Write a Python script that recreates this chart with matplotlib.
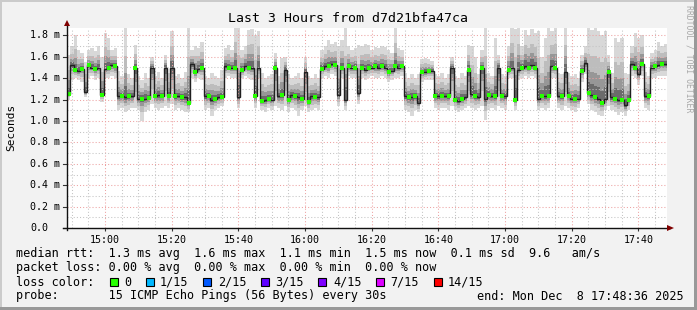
import numpy as np
import matplotlib
matplotlib.use("Agg")
import matplotlib.pyplot as plt
from matplotlib.patches import Rectangle, Polygon

W, H, DPI = 697, 310, 100
MONO = "DejaVu Sans Mono"

title = "Last 3 Hours from d7d21bfa47ca"
y_label = "Seconds"
side_text = "RRDTOOL / TOBI OETIKER"
start_time = "14:48:36"

# one value per minute from 14:48:36, in milliseconds
median_ms = [
    1.25, 1.52, 1.48, 1.47, 1.49, 1.27, 1.52, 1.50, 1.49, 1.50,
    1.245, 1.49, 1.50, 1.52, 1.51, 1.23, 1.23, 1.22, 1.23, 1.23,
    1.50, 1.21, 1.21, 1.21, 1.215, 1.50, 1.23, 1.24, 1.23, 1.50,
    1.23, 1.50, 1.23, 1.23, 1.22, 1.22, 1.17, 1.53, 1.46, 1.49,
    1.50, 1.23, 1.23, 1.20, 1.21, 1.22, 1.22, 1.51, 1.50, 1.50,
    1.50, 1.22, 1.48, 1.51, 1.50, 1.50, 1.23, 1.50, 1.19, 1.20,
    1.21, 1.20, 1.50, 1.23, 1.24, 1.48, 1.20, 1.24, 1.23, 1.22,
    1.21, 1.46, 1.18, 1.23, 1.22, 1.22, 1.49, 1.51, 1.51, 1.53,
    1.52, 1.245, 1.50, 1.20, 1.51, 1.50, 1.50, 1.26, 1.50, 1.48,
    1.50, 1.50, 1.51, 1.50, 1.51, 1.50, 1.46, 1.47, 1.51, 1.50,
    1.51, 1.23, 1.22, 1.22, 1.23, 1.17, 1.46, 1.46, 1.47, 1.47,
    1.23, 1.23, 1.23, 1.23, 1.23, 1.50, 1.20, 1.19, 1.21, 1.22,
    1.48, 1.25, 1.23, 1.22, 1.50, 1.21, 1.245, 1.23, 1.23, 1.50,
    1.23, 1.23, 1.48, 1.50, 1.20, 1.48, 1.50, 1.51, 1.50, 1.52,
    1.50, 1.21, 1.23, 1.23, 1.23, 1.51, 1.50, 1.23, 1.23, 1.46,
    1.23, 1.21, 1.21, 1.21, 1.47, 1.54, 1.26, 1.24, 1.22, 1.21,
    1.17, 1.21, 1.46, 1.22, 1.21, 1.20, 1.20, 1.15, 1.20, 1.53,
    1.50, 1.44, 1.53, 1.23, 1.23, 1.50, 1.51, 1.52, 1.53, 1.53,
]
smoke_hi_ms = [
    1.62, 1.70, 1.80, 1.66, 1.64, 1.55, 1.66, 1.68, 1.65, 1.70,
    1.60, 1.82, 1.78, 1.66, 1.68, 1.47, 1.42, 1.87, 1.44, 1.40,
    1.71, 1.42, 1.38, 1.45, 1.40, 1.60, 1.42, 1.46, 1.40, 1.62,
    1.45, 1.84, 1.42, 1.44, 1.40, 1.46, 1.88, 1.66, 1.70, 1.68,
    1.74, 1.42, 1.40, 1.45, 1.42, 1.40, 1.48, 1.68, 1.71, 1.66,
    1.90, 1.88, 1.66, 1.70, 1.85, 1.86, 1.80, 1.84, 1.45, 1.40,
    1.42, 1.44, 1.64, 1.42, 1.59, 1.60, 1.44, 1.40, 1.42, 1.45,
    1.40, 1.60, 1.42, 1.40, 1.44, 1.40, 1.66, 1.70, 1.76, 1.72,
    1.74, 1.70, 1.76, 1.88, 1.70, 1.66, 1.68, 1.71, 1.70, 1.72,
    1.71, 1.66, 1.69, 1.68, 1.70, 1.69, 1.66, 1.64, 1.87, 1.68,
    1.66, 1.45, 1.40, 1.44, 1.40, 1.44, 1.58, 1.59, 1.58, 1.56,
    1.44, 1.42, 1.45, 1.40, 1.44, 1.60, 1.42, 1.40, 1.45, 1.42,
    1.71, 1.70, 1.60, 1.44, 1.66, 1.87, 1.45, 1.42, 1.78, 1.62,
    1.44, 1.42, 1.70, 1.88, 1.86, 1.88, 1.70, 1.85, 1.80, 1.86,
    1.82, 1.84, 1.60, 1.78, 1.87, 1.84, 1.87, 1.45, 1.44, 1.88,
    1.45, 1.42, 1.44, 1.40, 1.62, 1.70, 1.87, 1.85, 1.87, 1.84,
    1.80, 1.84, 1.62, 1.45, 1.78, 1.74, 1.78, 1.45, 1.44, 1.70,
    1.82, 1.78, 1.80, 1.46, 1.42, 1.64, 1.66, 1.74, 1.70, 1.72,
]
smoke_lo_ms = [
    1.20, 1.38, 1.40, 1.38, 1.36, 1.22, 1.40, 1.42, 1.38, 1.40,
    1.18, 1.40, 1.40, 1.42, 1.40, 1.10, 1.12, 1.08, 1.10, 1.12,
    1.12, 1.10, 1.00, 1.08, 1.10, 1.16, 1.12, 1.10, 1.12, 1.14,
    1.12, 1.16, 1.10, 1.12, 1.10, 1.08, 1.08, 1.40, 1.36, 1.40,
    1.38, 1.10, 1.12, 1.05, 1.10, 1.12, 1.14, 1.40, 1.42, 1.40,
    1.40, 1.12, 1.40, 1.42, 1.40, 1.38, 1.12, 1.40, 1.10, 1.08,
    1.12, 1.10, 1.14, 1.12, 1.10, 1.14, 1.08, 1.12, 1.10, 1.05,
    1.10, 1.14, 1.08, 1.10, 1.12, 1.10, 1.40, 1.42, 1.40, 1.44,
    1.42, 1.14, 1.40, 1.10, 1.42, 1.40, 1.40, 1.16, 1.40, 1.38,
    1.40, 1.42, 1.40, 1.40, 1.42, 1.40, 1.36, 1.38, 1.40, 1.40,
    1.42, 1.10, 1.08, 1.05, 1.10, 1.08, 1.36, 1.38, 1.38, 1.38,
    1.12, 1.10, 1.12, 1.12, 1.10, 1.14, 1.10, 1.08, 1.10, 1.12,
    1.14, 1.12, 1.10, 1.12, 1.14, 1.01, 1.10, 1.12, 1.10, 1.14,
    1.12, 1.10, 1.40, 1.40, 1.10, 1.38, 1.40, 1.42, 1.40, 1.42,
    1.40, 1.10, 1.12, 1.10, 1.12, 1.40, 1.40, 1.12, 1.10, 1.14,
    1.12, 1.10, 1.08, 1.12, 1.36, 1.44, 1.16, 1.10, 1.08, 1.06,
    1.05, 1.10, 1.14, 1.10, 1.08, 1.06, 1.08, 1.05, 1.10, 1.42,
    1.40, 1.34, 1.42, 1.12, 1.10, 1.40, 1.40, 1.42, 1.42, 1.42,
]

y_ticks = [0.0, 0.2, 0.4, 0.6, 0.8, 1.0, 1.2, 1.4, 1.6, 1.8]
y_tick_labels = ["0.0", "0.2 m", "0.4 m", "0.6 m", "0.8 m", "1.0 m",
                 "1.2 m", "1.4 m", "1.6 m", "1.8 m"]
x_tick_labels = ["15:00", "15:20", "15:40", "16:00", "16:20",
                 "16:40", "17:00", "17:20", "17:40"]

legend_rtt = "median rtt:  1.3 ms avg  1.6 ms max  1.1 ms min  1.5 ms now  0.1 ms sd  9.6   am/s"
legend_loss = "packet loss: 0.00 % avg  0.00 % max  0.00 % min  0.00 % now"
loss_title = "loss color:"
loss_labels = ["0", "1/15", "2/15", "3/15", "4/15", "7/15", "14/15"]
loss_colors = ["#26ff00", "#00b8ff", "#0059ff", "#5e00ff", "#7e00ff", "#dd00ff", "#ff0000"]
probe_text = "probe:       15 ICMP Echo Pings (56 Bytes) every 30s"
end_text = "end: Mon Dec  8 17:48:36 2025"


def to_min(hhmm):
    parts = [float(p) for p in hhmm.split(":")]
    while len(parts) < 3:
        parts.append(0.0)
    return parts[0] * 60 + parts[1] + parts[2] / 60


def fx(px):
    return px / W


def fy(py):
    return 1 - py / H


t0 = to_min(start_time)
x_ticks = [to_min(s) - t0 for s in x_tick_labels]
x_minor = np.arange(to_min("14:50") - t0, 180, 5)

med = np.array(median_ms)
hi = np.array(smoke_hi_ms)
lo = np.array(smoke_lo_ms)
t = np.arange(len(med))

plt.rcParams["font.family"] = MONO
fig = plt.figure(figsize=(W / DPI, H / DPI), dpi=DPI, facecolor="#f2f2f2")

# 3d-ish frame like rrdtool
fig.add_artist(Rectangle((0, fy(2)), 1, 2 / H, transform=fig.transFigure, color="#cbcbcb", lw=0))
fig.add_artist(Rectangle((0, 0), 2 / W, 1, transform=fig.transFigure, color="#cbcbcb", lw=0))
fig.add_artist(Rectangle((0, 0), 1, 3 / H, transform=fig.transFigure, color="#999999", lw=0))
fig.add_artist(Rectangle((fx(W - 3), 0), 3 / W, 1, transform=fig.transFigure, color="#999999", lw=0))

ax = fig.add_axes([fx(67), fy(228), 600 / W, 200 / H])
ax.set_facecolor("white")
ax.set_xlim(0, 180)
ax.set_ylim(0, 200 / 107)

# smoke: light outer band to dark core around the median
layers = [(1.0, "#d8d8d8"), (0.6, "#bdbdbd"), (0.35, "#979797"), (0.17, "#6b6b6b")]
for k, col in layers:
    bot = med - k * (med - lo)
    top = med + k * (hi - med)
    ax.bar(t, top - bot, bottom=bot, width=1.0, align="edge", color=col,
           linewidth=0, zorder=2)

ax.stairs(med, np.arange(len(med) + 1), baseline=None, color="#202020", lw=1.0, zorder=4)
ax.plot(t[::2] + 0.5, med[::2], "s", color=loss_colors[0], ms=2.6, mew=0, zorder=5)

# grid (rrdtool draws it on top)
ax.set_xticks(x_ticks)
ax.set_xticks(x_minor, minor=True)
ax.set_yticks(y_ticks)
ax.set_yticks(np.arange(0.1, 1.85, 0.2), minor=True)
ax.grid(which="minor", color="#c4c4c4", ls=(0, (1, 2)), lw=0.75, zorder=6)
ax.grid(which="major", color="#eda2a2", ls=(0, (1, 2)), lw=0.75, zorder=6)
ax.set_axisbelow(False)

ax.set_xticklabels(x_tick_labels, fontsize=7.2)
ax.tick_params(axis="x", which="major", length=2.5, width=0.8, pad=2.5, color="#333333")
ax.tick_params(axis="x", which="minor", length=0)
ax.tick_params(axis="y", which="both", length=0, labelleft=False)
for s in ax.spines.values():
    s.set_visible(False)

for v, lab in zip(y_ticks, y_tick_labels):
    ax.text(fx(30 - 67) * W / 600, v, lab, transform=ax.get_yaxis_transform(),
            ha="left", va="center", fontsize=7.2)
    ax.plot([-4 / 600, 0], [v, v], transform=ax.get_yaxis_transform(),
            color="#333333", lw=0.8, clip_on=False)

# axes with arrows
ax.plot([-4 / 600, 1.005], [0, 0], transform=ax.transAxes, color="#111111", lw=1.0, clip_on=False, zorder=7)
ax.plot([0, 0], [-0.01, 1.01], transform=ax.transAxes, color="#111111", lw=1.0, clip_on=False, zorder=7)
fig.add_artist(Polygon([(fx(667), fy(225)), (fx(667), fy(231)), (fx(674), fy(228))],
                       closed=True, transform=fig.transFigure, color="#800000", lw=0))
fig.add_artist(Polygon([(fx(64), fy(26)), (fx(70), fy(26)), (fx(67), fy(20))],
                       closed=True, transform=fig.transFigure, color="#800000", lw=0))

fig.text(fx(348), fy(19), title, ha="center", va="center", fontsize=9.5)
fig.text(fx(11), fy(127), y_label, ha="center", va="center", rotation=90, fontsize=8)
fig.text(fx(689), fy(59), side_text, ha="center", va="center", rotation=270,
         fontsize=5.9, color="#a8a8a8")

# legend block
lx = 16
fs = 8.5
fig.text(fx(lx), fy(254), legend_rtt, va="center", fontsize=fs)
fig.text(fx(lx), fy(268), legend_loss, va="center", fontsize=fs)
fig.text(fx(lx), fy(282), loss_title, va="center", fontsize=fs)
col = 13
for lab, c in zip(loss_labels, loss_colors):
    x = lx + col * 7.2
    fig.add_artist(Rectangle((fx(x), fy(286)), 8 / W, 8 / H, transform=fig.transFigure,
                             facecolor=c, edgecolor="black", lw=0.8))
    fig.text(fx(x + 14.5), fy(282), lab, va="center", fontsize=fs)
    col += 2 + len(lab) + 2
fig.text(fx(lx), fy(296), probe_text, va="center", fontsize=fs)
fig.text(fx(477), fy(296), end_text, va="center", fontsize=fs)

fig.savefig("out.png", dpi=DPI, facecolor=fig.get_facecolor())
